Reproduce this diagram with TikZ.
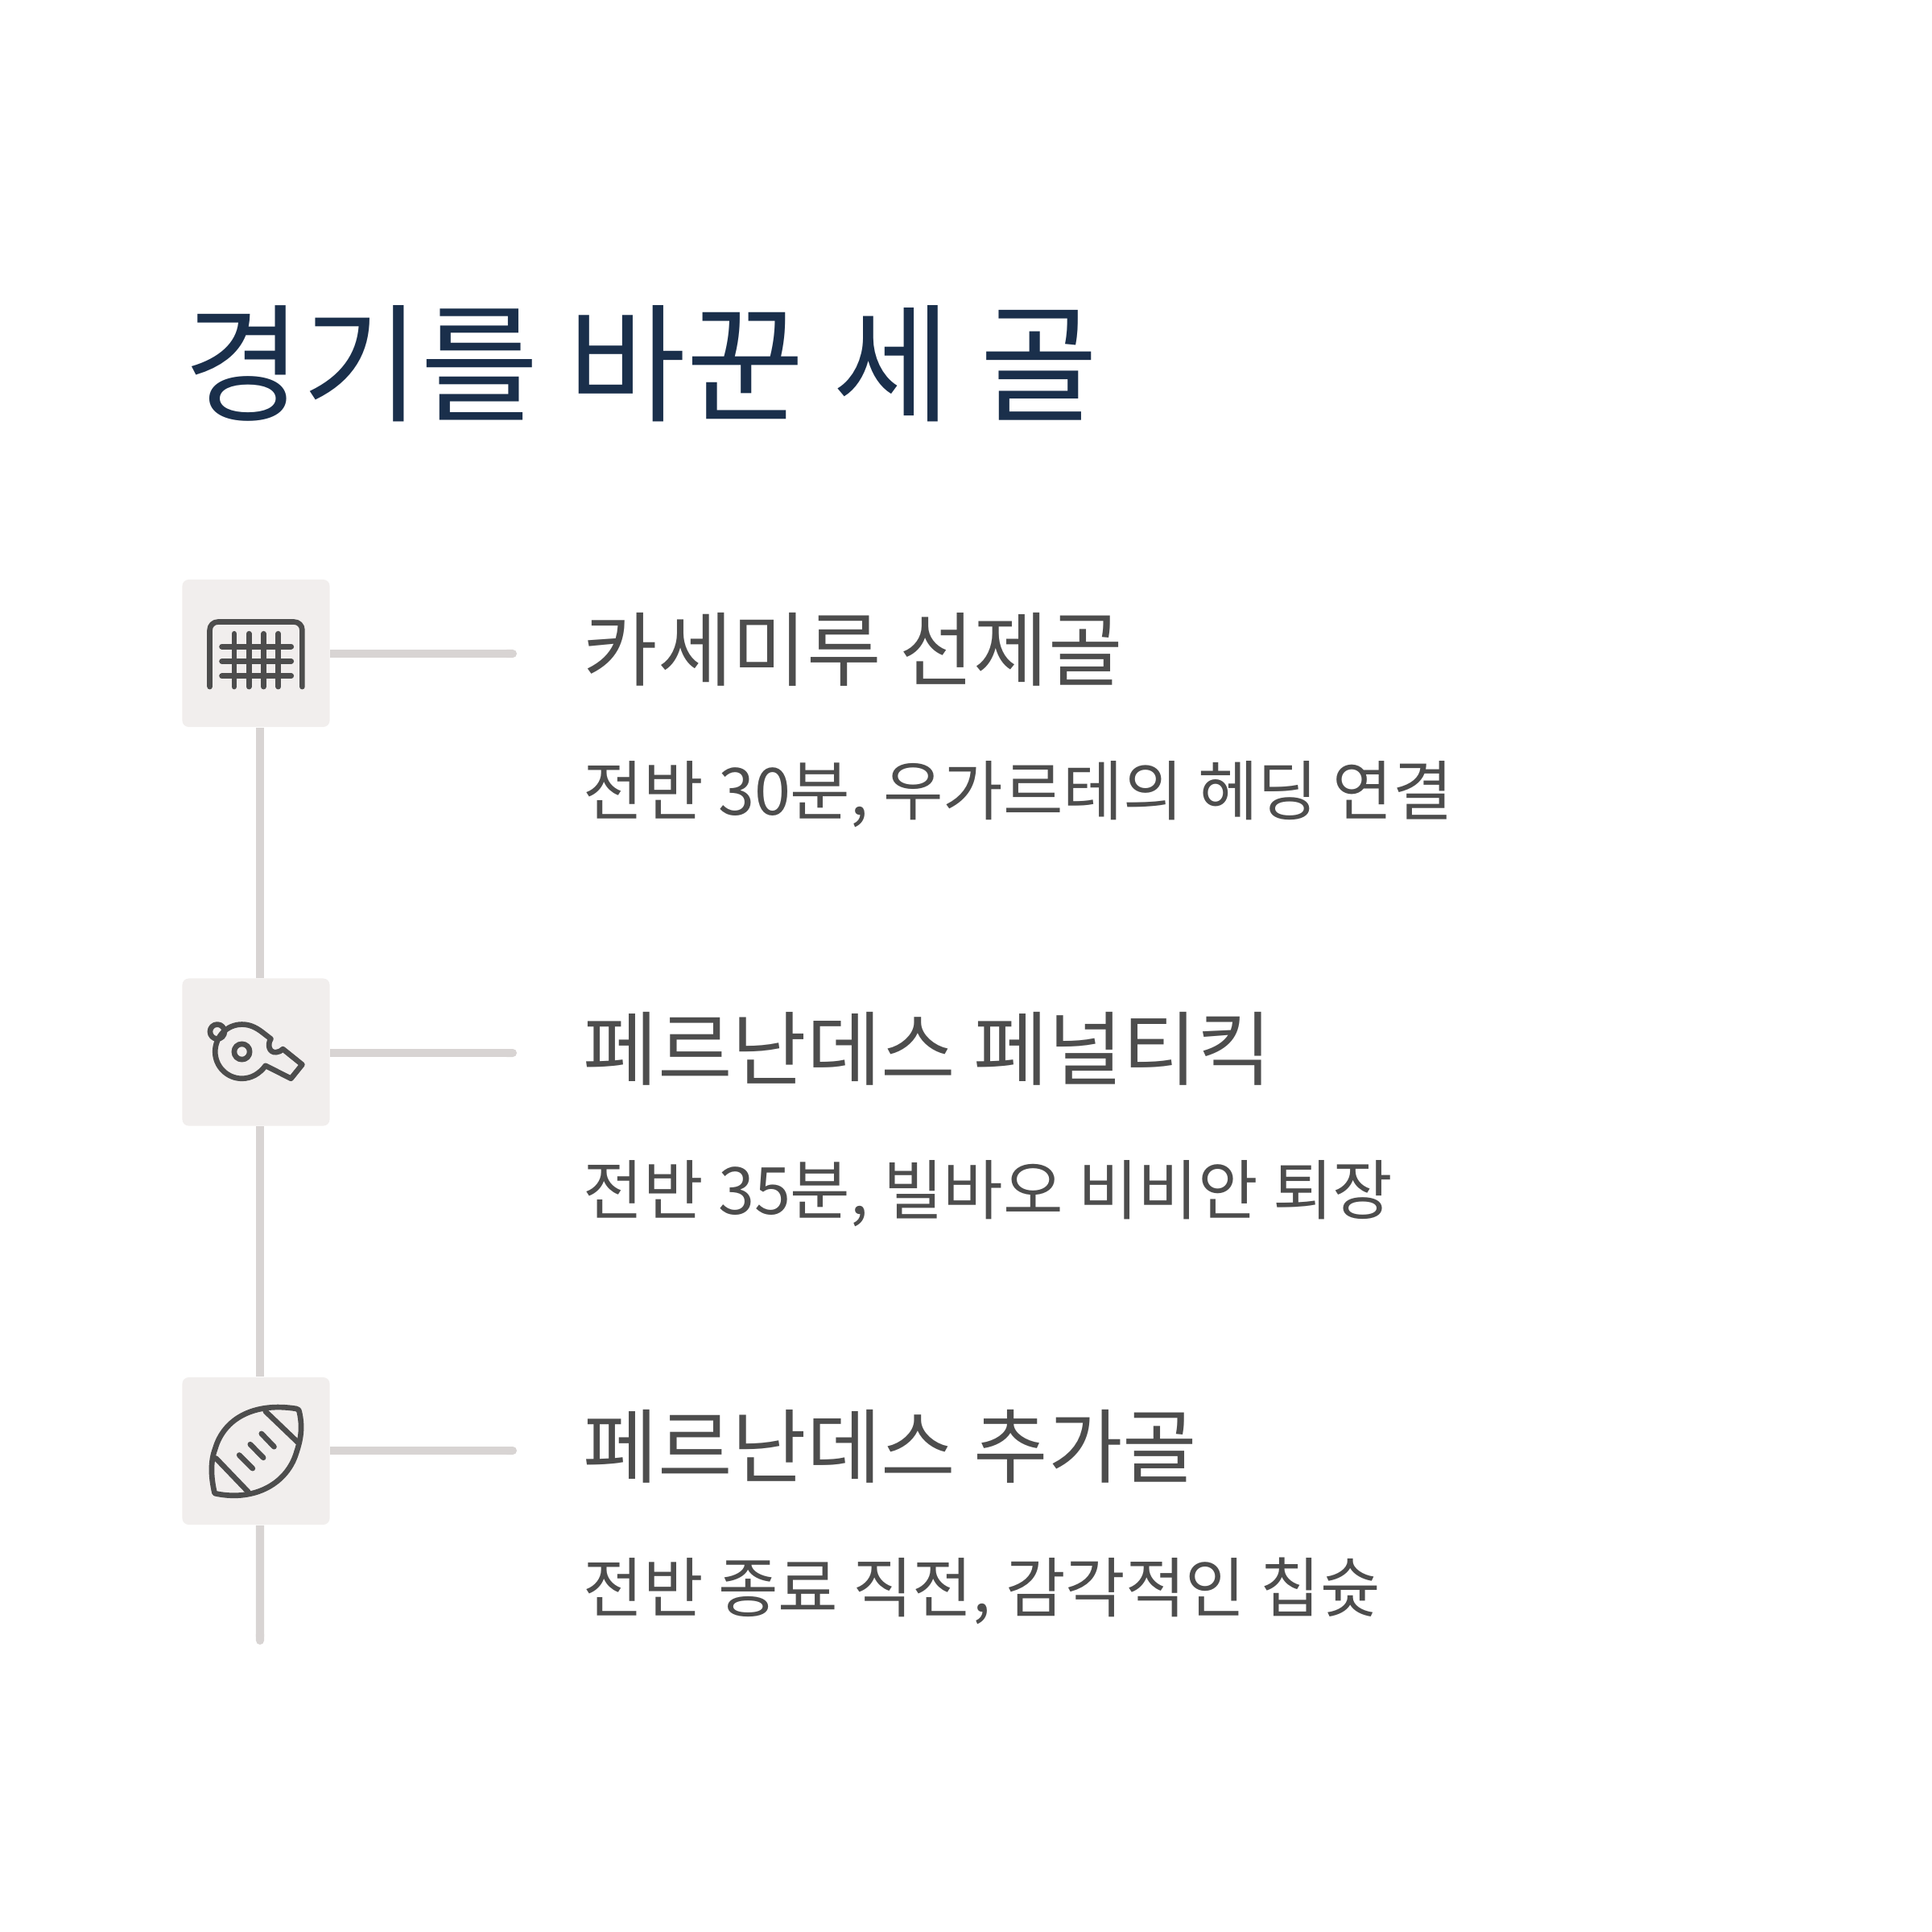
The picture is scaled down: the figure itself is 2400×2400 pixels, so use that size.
\documentclass[tikz,border=0pt]{standalone}
\usepackage{fontspec}
\setmainfont{Noto Sans CJK KR}
\usetikzlibrary{arrows.meta}

\tikzset{
  iconbox/.style={fill=boxgray, rounded corners=0.08cm, minimum size=1.83cm, inner sep=0pt},
  track/.style={draw=trackgray, line width=2.85pt},
  icon/.style={draw=textgray, line width=1.9pt, line cap=round, line join=round},
  titletext/.style={anchor=base west, inner sep=0pt, text=navy, font=\fontsize{45.4}{45.4}\selectfont},
  headtext/.style={anchor=base west, inner sep=0pt, text=textgray, font=\fontsize{28.6}{28.6}\selectfont},
  subtext/.style={anchor=base west, inner sep=0pt, text=textgray, font=\fontsize{23.05}{23.05}\selectfont},
}
\definecolor{navy}{HTML}{1A2F4B}
\definecolor{textgray}{HTML}{4D4D4D}
\definecolor{boxgray}{HTML}{F1EEED}
\definecolor{trackgray}{HTML}{D8D4D3}

\begin{document}
\begin{tikzpicture}[x=0.01cm,y=-0.01cm]
  \useasboundingbox (0,0) rectangle (2400,2400);

  % title
  \node[titletext] (title) at (228,511) {경기를 바꾼 세 골};

  % icon boxes
  \node[iconbox] (box1) at (318,811.5) {};
  \node[iconbox] (box2) at (318,1307) {};
  \node[iconbox] (box3) at (318,1802.5) {};

  % free ends of the track
  \coordinate (end1) at (642,812);
  \coordinate (end2) at (642,1308);
  \coordinate (end3) at (642,1802);
  \coordinate (endv) at (323,2043);

  % track
  \draw[track,-{Round Cap[]}] (box1.east |- end1) -- (end1);
  \draw[track,-{Round Cap[]}] (box2.east |- end2) -- (end2);
  \draw[track,-{Round Cap[]}] (box3.east |- end3) -- (end3);
  \draw[track] ([xshift=0.05cm]box1.south) -- ([xshift=0.05cm]box2.north);
  \draw[track] ([xshift=0.05cm]box2.south) -- ([xshift=0.05cm]box3.north);
  \draw[track,-{Round Cap[]}] ([xshift=0.05cm]box3.south) -- (endv);

  % texts
  \node[headtext] (head1) at (724,844) {카세미루 선제골};
  \node[subtext] (sub1) at (724,1012) {전반 30분, 우가르테의 헤딩 연결};
  \node[headtext] (head2) at (724,1340) {페르난데스 페널티킥};
  \node[subtext] (sub2) at (724,1508) {전반 35분, 빌바오 비비안 퇴장};
  \node[headtext] (head3) at (724,1834) {페르난데스 추가골};
  \node[subtext] (sub3) at (724,2002) {전반 종료 직전, 감각적인 칩슛};

  % goal icon
  \begin{scope}[shift={(210,700)},x=0.00333cm,y=-0.00333cm]
    \draw[icon,rounded corners=0.1cm] (152,460) -- (152,218) -- (497,218) -- (497,460);
    \foreach \netx in {243,298,353,408} \draw[icon] (\netx,262) -- (\netx,460);
    \foreach \nety in {310,365,420} \draw[icon] (197,\nety) -- (456,\nety);
  \end{scope}

  % whistle icon
  \begin{scope}[shift={(210,1200)},x=0.00333cm,y=-0.00333cm]
    \draw[icon] (180,245) circle[radius=27];
    \draw[icon] (272,320) circle[radius=29];
    \draw[icon] (172,320) .. controls (172,265) and (215,218) .. (272,218)
      .. controls (300,218) and (322,228) .. (345,245) -- (380,272)
      .. controls (365,295) and (375,325) .. (400,322)
      .. controls (410,321) and (418,317) .. (425,310) -- (497,368) -- (455,420) -- (360,372)
      .. controls (338,402) and (307,420) .. (272,420)
      .. controls (217,420) and (172,375) .. (172,320) -- cycle;
  \end{scope}

  % football icon
  \begin{scope}[shift={(210,1700)},x=0.00333cm,y=-0.00333cm]
    \draw[icon] (170,465) .. controls (155,400) and (155,345) .. (172,300)
      .. controls (205,185) and (320,125) .. (475,150)
      .. controls (485,152) and (484,155) .. (487,165)
      .. controls (500,225) and (490,270) .. (475,315)
      .. controls (440,430) and (320,495) .. (180,468)
      .. controls (174,467) and (172,466) .. (170,465) -- cycle;
    \draw[icon] (175,335) -- (295,460);
    \draw[icon] (360,160) -- (480,275);
    \draw[icon] (345,243) -- (392,292);
    \draw[icon] (303,283) -- (352,333);
    \draw[icon] (262,323) -- (312,373);
  \end{scope}
\end{tikzpicture}
\end{document}
